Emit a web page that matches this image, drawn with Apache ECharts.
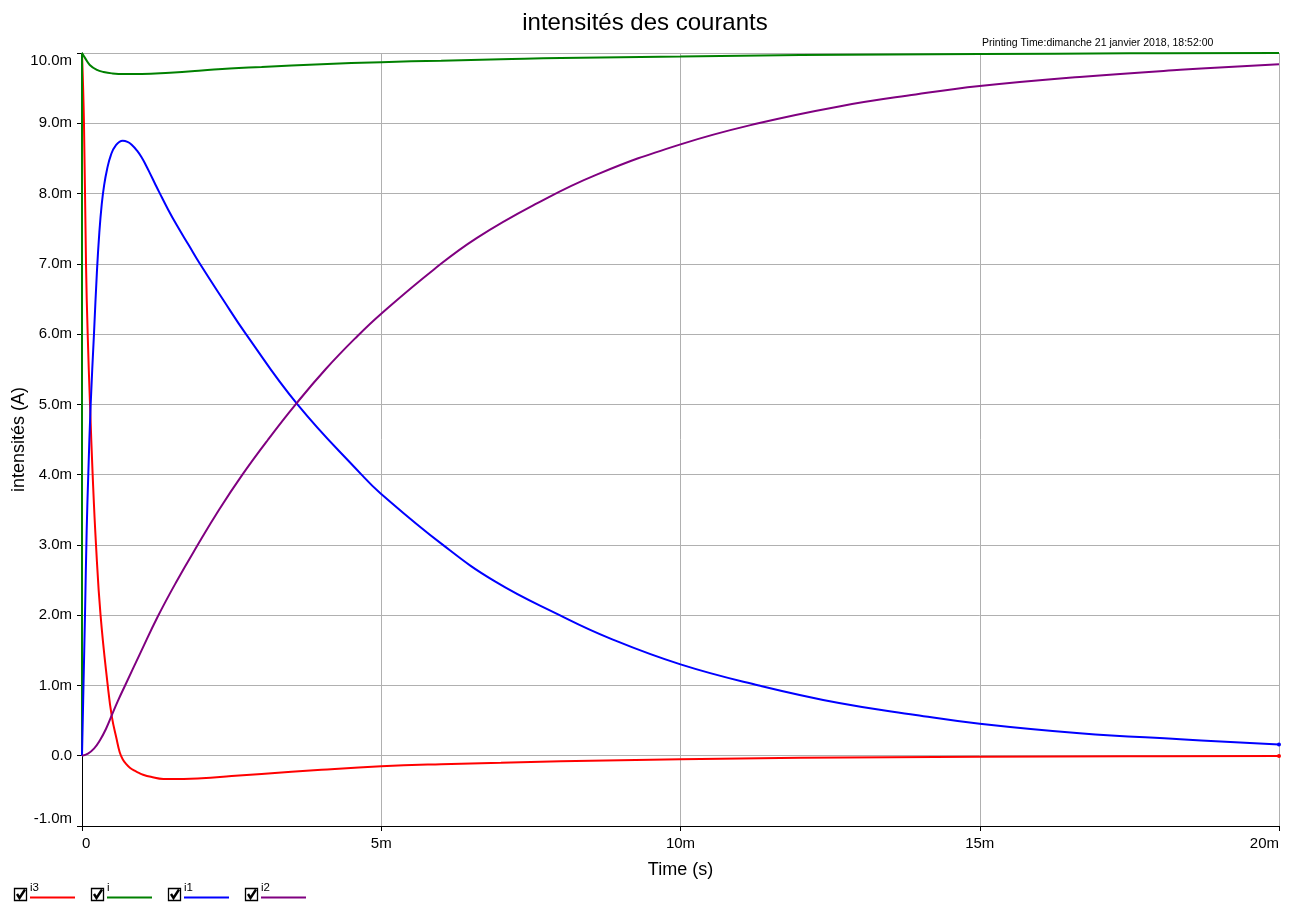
<!DOCTYPE html>
<html>
<head>
<meta charset="utf-8">
<script src="https://cdn.jsdelivr.net/npm/echarts@6/dist/echarts.min.js"></script>
<style>
html,body{margin:0;padding:0;background:#fff;}
#chart{width:1290px;height:905px;}
</style>
</head>
<body>
<div id="chart"></div>
<script>
// ---- data (time in ms, current in mA) ----
const seriesNames = ['i3', 'i', 'i1', 'i2'];
const seriesColors = ['#ff0000', '#008000', '#0000ff', '#800080'];

const i3Points = [
  [0, 0], [0, 10.0], [0.033, 9.0], [0.067, 7.0], [0.095, 6.0], [0.134, 5.0], [0.178, 4.0],
  [0.234, 3.0], [0.31, 2.0], [0.43, 1.0], [0.5, 0.55], [0.58, 0.23], [0.63, 0.05],
  [0.68, -0.05], [0.74, -0.12], [0.8, -0.17], [0.87, -0.21], [0.94, -0.24], [1.02, -0.27],
  [1.15, -0.3], [1.36, -0.33], [1.7, -0.33], [2.0, -0.32],
  [2.5, -0.29], [3.0, -0.26], [4.0, -0.2], [5.0, -0.15], [6.0, -0.12], [7.0, -0.1],
  [8.0, -0.08], [10.0, -0.05], [12.0, -0.03], [15.0, -0.014], [17.5, -0.007], [20.0, -0.003]
];

const iPoints = [
  [0, 0], [0, 10.0], [0.05, 9.93], [0.13, 9.83], [0.25, 9.76], [0.36, 9.73], [0.5, 9.71],
  [0.7, 9.70], [1.0, 9.70], [1.47, 9.72], [2.0, 9.75], [2.47, 9.78], [3.0, 9.80],
  [4.0, 9.84], [5.0, 9.87], [6.0, 9.89], [7.0, 9.91], [8.0, 9.93], [10.0, 9.95],
  [12.0, 9.97], [15.0, 9.985], [17.5, 9.995], [20.0, 10.0]
];

const i1Points = [
  [0, 0], [0.025, 1.0], [0.05, 2.0], [0.078, 3.2], [0.105, 4.0], [0.145, 5.0], [0.2, 6.0],
  [0.25, 6.9], [0.29, 7.45], [0.33, 7.85], [0.37, 8.12], [0.42, 8.35], [0.48, 8.54],
  [0.56, 8.68], [0.68, 8.75], [0.76, 8.735], [0.83, 8.695], [0.92, 8.61], [1.0, 8.51],
  [1.07, 8.4], [1.14, 8.28], [1.22, 8.14], [1.29, 8.02], [1.44, 7.77], [1.59, 7.54],
  [1.78, 7.27], [1.97, 7.0], [2.35, 6.5], [2.74, 6.0], [3.6, 5.0], [4.67, 4.0], [4.98, 3.74],
  [6.03, 3.0], [6.9, 2.48], [7.98, 2.0], [8.82, 1.67], [10.0, 1.30], [11.31, 1.0],
  [12.65, 0.75], [13.93, 0.58], [15.0, 0.455], [16.67, 0.32], [18.35, 0.235], [20.0, 0.16]
];

const i2Points = [
  [0, 0], [0.1, 0.03], [0.2, 0.1], [0.3, 0.22], [0.4, 0.38], [0.5, 0.58], [0.6, 0.78],
  [0.72, 1.0], [0.98, 1.47], [1.26, 1.97], [1.58, 2.48], [1.92, 2.98], [2.29, 3.5],
  [2.68, 4.0], [3.11, 4.5], [3.57, 5.0], [4.07, 5.5], [4.6, 5.97], [5.0, 6.29],
  [5.88, 6.92], [6.6, 7.37], [7.6, 7.86], [8.6, 8.27], [10.0, 8.70], [11.3, 9.0],
  [12.65, 9.24], [13.93, 9.41], [15.0, 9.53], [16.67, 9.66], [18.35, 9.76], [20.0, 9.84]
];

const xTicks = [0, 5, 10, 15, 20];
const xTickLabels = ['0', '5m', '10m', '15m', '20m'];
const yTickLabels = ['-1.0m', '0.0', '1.0m', '2.0m', '3.0m', '4.0m', '5.0m', '6.0m', '7.0m', '8.0m', '9.0m', '10.0m'];

const titleText = 'intensités des courants';
const printText = 'Printing Time:dimanche 21 janvier 2018, 18:52:00';
const xName = 'Time (s)';
const yName = 'intensités (A)';

// ---- chart ----
const FONT = '"Liberation Sans", Arial, sans-serif';
const allPoints = [i3Points, iPoints, i1Points, i2Points];
const endDot = [true, false, true, false];

const chart = echarts.init(document.getElementById('chart'), null, {renderer: 'canvas'});

const series = allPoints.map((pts, k) => ({
  name: seriesNames[k],
  type: 'line',
  data: pts.map((p, j) => {
    if (j === pts.length - 1 && endDot[k]) {
      return {value: p, symbol: 'circle', symbolSize: 4};
    }
    return {value: p};
  }),
  showSymbol: true,
  symbol: 'none',
  smooth: 0.45,
  clip: false,
  lineStyle: {color: seriesColors[k], width: 2},
  itemStyle: {color: seriesColors[k]},
  emphasis: {disabled: true},
  animation: false
}));

// legend drawn as graphics (checkbox + name + line)
const legendGraphics = [];
seriesNames.forEach((name, k) => {
  const x0 = 14 + k * 77;
  legendGraphics.push({
    type: 'rect', shape: {x: x0 + 0.5, y: 888.5, width: 12, height: 12},
    style: {fill: '#fff', stroke: '#000', lineWidth: 1.3}
  });
  legendGraphics.push({
    type: 'polyline', shape: {points: [[x0 + 3, 894], [x0 + 5.5, 898], [x0 + 11, 889.5]]},
    style: {fill: null, stroke: '#000', lineWidth: 2.4}
  });
  legendGraphics.push({
    type: 'text', x: x0 + 16, y: 882,
    style: {text: name, fontSize: 11.5, fontFamily: FONT, fill: '#000'}
  });
  legendGraphics.push({
    type: 'line', shape: {x1: x0 + 16, y1: 897.5, x2: x0 + 61, y2: 897.5},
    style: {stroke: seriesColors[k], lineWidth: 2}
  });
});

chart.setOption({
  animation: false,
  backgroundColor: '#fff',
  textStyle: {fontFamily: FONT},
  title: [
    {text: titleText, left: 'center', top: 6,
     textStyle: {fontSize: 24, fontWeight: 'normal', color: '#000', fontFamily: FONT}},
    {text: printText, left: 977, top: 33,
     textStyle: {fontSize: 10.5, fontWeight: 'normal', color: '#000', fontFamily: FONT}}
  ],
  grid: {left: 82, right: 11, top: 53, bottom: 79, containLabel: false, outerBoundsMode: 'none'},
  xAxis: {
    type: 'value', min: 0, max: 20, interval: 5,
    name: xName, nameLocation: 'middle', nameGap: 35, nameMoveOverlap: false,
    nameTextStyle: {fontSize: 18, color: '#000', fontFamily: FONT},
    axisLine: {show: true, onZero: false, lineStyle: {color: '#000', width: 1}},
    axisTick: {show: true, length: 5, inside: false, lineStyle: {color: '#000'}},
    splitLine: {show: true, lineStyle: {color: '#b0b0b0', width: 1}},
    axisLabel: {
      fontSize: 15, color: '#000', margin: 10, fontFamily: FONT,
      alignMinLabel: 'left', alignMaxLabel: 'right',
      formatter: v => { const i = xTicks.indexOf(v); return i >= 0 ? xTickLabels[i] : ''; }
    }
  },
  yAxis: {
    type: 'value', min: -1, max: 10, interval: 1,
    name: yName, nameLocation: 'middle', nameGap: 54, nameMoveOverlap: false,
    nameTextStyle: {fontSize: 18, color: '#000', fontFamily: FONT},
    axisLine: {show: true, onZero: false, lineStyle: {color: '#000', width: 1}},
    axisTick: {show: true, length: 5, inside: false, lineStyle: {color: '#000'}},
    splitLine: {show: true, lineStyle: {color: '#b0b0b0', width: 1}},
    axisLabel: {
      fontSize: 15, color: '#000', margin: 10, fontFamily: FONT,
      verticalAlignMinLabel: 'bottom', verticalAlignMaxLabel: 'top',
      formatter: v => { const i = Math.round(v) + 1; return yTickLabels[i] !== undefined ? yTickLabels[i] : ''; }
    }
  },
  tooltip: {show: false},
  series: series,
  graphic: legendGraphics
});
</script>
</body>
</html>
